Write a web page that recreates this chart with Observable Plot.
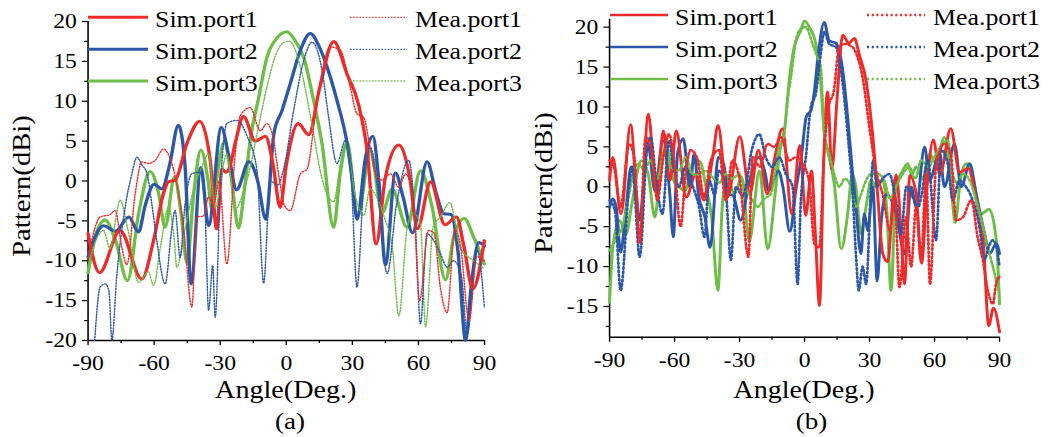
<!DOCTYPE html>
<html><head><meta charset="utf-8">
<script src="https://cdn.jsdelivr.net/npm/d3@7"></script>
<script src="https://cdn.jsdelivr.net/npm/@observablehq/plot@0.6"></script>
<style>
html,body{margin:0;padding:0;background:#fff;overflow:hidden;width:1050px;height:437px}
#stage{position:absolute;left:0;top:0;height:437px;transform-origin:0 0;font-family:"Liberation Serif","Times New Roman",serif}
#stage svg{position:absolute;top:0;overflow:visible}
</style></head><body><div id="stage"></div>
<script>
// ---------- data: panel (a) ----------
const simA1 = [[-90,-6.6],[-84.8,-11.5],[-75.5,-6.2],[-65.6,-12.3],[-60.3,-7.5],[-55.8,-1.6],[-53.5,-0.1],[-50.5,0.1],[-45,4.8],[-39.3,7.5],[-34.5,2.5],[-31.6,-6.0],[-29.2,1.5],[-27.5,1.1],[-26,1.5],[-23,5],[-19.4,8.1],[-14.1,5],[-9.5,5.6],[-6,2],[-2.8,-3.3],[0,2],[5.4,7.2],[10.2,5.8],[15,11.5],[21.5,17.5],[27.6,13.4],[32.9,9.5],[36.7,3.8],[40.8,-7.9],[45,0.5],[51.1,4.5],[56,0.5],[59.5,-6.0],[65.5,-0.1],[72,-5.5],[77.3,-4.5],[80.5,-8],[84.7,-13.5],[89.9,-7.5]];
const simA2 = [[-90,-9.5],[-83,-5.6],[-77.5,-6.3],[-71.5,-4.5],[-67.1,-6.4],[-64,-3],[-60,-0.4],[-56.5,-1.0],[-53,2],[-49,7.0],[-46,2],[-43.2,-12.9],[-38.8,1.7],[-35.3,-5.6],[-29.5,6.7],[-26,3],[-22.6,-1.1],[-17,2.4],[-13,0],[-9.3,-4.8],[-5.6,6],[-2,8.8],[1.8,12.2],[6.4,16.4],[10.9,18.5],[15,16.8],[18.5,14.3],[23,10.1],[27.6,4.7],[30,0],[32.1,-4.8],[36,3],[39.3,5.6],[42,0],[45,-10.5],[49.5,1.0],[53,-2],[57.3,-6.5],[63.9,2.4],[68,-1.5],[71.5,-4.1],[74.8,-4.2],[78,-9],[81.4,-20],[84,-13],[87.4,-7.7],[89.9,-8.1]];
const simA3 = [[-90,-11.5],[-86.5,-6.8],[-82.3,-4.9],[-77.5,-7.5],[-72.1,-12.5],[-67,-4],[-61.8,1.2],[-58,-1.5],[-55,-5.8],[-50.8,0.5],[-47.8,-4],[-45.1,-10.3],[-42,-1.5],[-38.8,3.9],[-35.5,0],[-33.8,-3.5],[-31,1.5],[-28.2,4.9],[-25,0.5],[-21.7,-5.9],[-19,-1],[-16.4,5.1],[-12.5,10.5],[-8.8,15.5],[-4,18],[0.2,18.7],[4,17.6],[7.9,15.5],[12.4,10.1],[16.2,4.7],[21.5,-5.8],[24.5,1],[27.6,4.9],[32.4,-4.4],[38.2,3.8],[43.5,-4],[48,-1],[54.8,-5.8],[60.9,1.3],[66,-3],[72.3,-12.4],[76,-7],[80.8,-4.7],[85,-7],[89.9,-10.4]];
const meaA1 = [[-90,-9.8],[-87,-6],[-84.5,-4.5],[-80,-4.2],[-77.7,-3.7],[-74.7,-8.3],[-72.4,-10.5],[-68.6,-1.6],[-65.6,2.4],[-62.6,2.2],[-59.5,2.6],[-55.8,4.0],[-53,3],[-49.7,-0.4],[-46.7,-5.8],[-42.9,-15.8],[-40.6,-4.5],[-37.6,-4.4],[-35.3,-2],[-33,-3],[-30.5,0],[-27,-10.4],[-23.2,3.4],[-20.9,8.2],[-16.4,9.2],[-11.8,6.3],[-8.8,7.2],[-6.5,6],[-3,0],[-1,-3],[1.8,-3.7],[6.4,0.9],[9.4,1.5],[14,10.1],[20,16.8],[24.5,16.4],[29,11.8],[32.1,8.4],[35.1,8],[37.4,5.2],[40.5,0.9],[43.5,0.1],[47.3,0.9],[51.1,-0.8],[54.1,0.9],[57.5,-2],[60.5,-15],[64.5,-6.2],[67,-6.5],[70,-13.5],[73,-16.5],[76.5,-6],[79,-8],[83,-17.5],[86.5,-9.5],[89.9,-10]];
const meaA2 = [[-87,-20],[-84.5,-13.3],[-82.3,-12.9],[-80.5,-13.8],[-79.2,-20],[-77,-12],[-73,-3],[-70,1],[-67.9,3.0],[-65.5,2],[-63.3,1.0],[-61,-3],[-58.8,-7.5],[-55,-12.9],[-52,-6],[-50.5,-3.7],[-48.2,-9.6],[-46,-3],[-42.9,0.9],[-39.1,1.1],[-37,-3],[-35.3,-16.2],[-33.4,-10.6],[-32.3,-17.1],[-30,-1.2],[-27,7.2],[-22.4,7.6],[-17.9,5.7],[-13.3,1.3],[-10.3,-12.8],[-7.3,0],[-4,-0.5],[-1.2,1.5],[3.3,8.8],[7.9,15.1],[11.7,17.4],[16.2,13.9],[19.2,8],[23,2.2],[26.8,5.1],[29.5,0],[32.1,-13.3],[35,-1],[38.2,4.2],[41,0],[45.8,-11.6],[50,-3],[55.6,2.6],[58.5,-5],[60.9,-17.9],[63.9,-6.6],[67,-7.5],[69.8,-9.0],[73,-10.8],[76,-10],[79.5,-12],[82.1,-19.2],[86.7,-8.7],[89.9,-15.8]];
const meaA3 = [[-90,-10.8],[-86.5,-7.5],[-83,-6.2],[-80,-8.5],[-77,-4],[-75.5,-2.4],[-72,-6],[-67.1,-12.7],[-62.6,-11.4],[-60.3,-13.1],[-57,-8],[-53.5,-3.3],[-51,-7],[-49.7,-10.8],[-46,-6],[-42,-1],[-38,2],[-35.3,3.4],[-32.3,-3.3],[-27,3.4],[-23.2,-3.5],[-19,-1],[-16.4,1.7],[-12.5,7],[-8.8,11.8],[-4.5,16],[-1,17.4],[1.5,17.5],[6.4,14.3],[11.7,7],[16.2,0.3],[21.5,-2.6],[24.5,2],[27,4.7],[31.4,-2],[35.2,-4.3],[38,-1],[41,-2],[45,-5],[48,-8],[51.1,-16.9],[54.8,-6],[57.5,-4],[60.9,-5.4],[63.2,-18.3],[66.7,-5.7],[70,-4.5],[74.2,-2.7],[79,-8.4],[85,-10],[89.9,-11]];

// ---------- data: panel (b) ----------
const simB1 = [[-90,0.8],[-88.5,3.7],[-84.7,-3.4],[-80.3,7.8],[-76.1,-5.9],[-72.1,9.1],[-68.4,-0.9],[-65.2,7.0],[-62.1,0.8],[-59.2,7.0],[-54.6,-1.3],[-50.2,1.6],[-46.4,-1.7],[-42.5,3.5],[-39.9,7.7],[-35.6,-1.3],[-29.9,6.3],[-25.2,-0.8],[-21.3,4.6],[-17.2,-0.9],[-13.5,4],[-10.2,7.3],[-5.9,-3.4],[-2.2,5.2],[0.5,-3.6],[3.2,2.0],[5,-6],[6.9,-14.9],[8.8,3],[10.6,11.9],[12.6,2.2],[15,11],[17.6,19.0],[20.5,18.0],[23,18.6],[25.3,16.5],[28.4,13.3],[31.4,6.6],[33.7,-0.9],[36.1,-8.4],[38.4,-9.4],[40.7,-1.7],[42.3,1.5],[44.5,-5.5],[46.1,-12.2],[48.6,1.4],[51.5,-0.9],[54,-9.6],[56.5,0],[59.4,5.9],[62.5,1.5],[67.5,7.3],[71.5,1.8],[75.4,2.3],[79.5,-2],[82.5,-7],[85,-17.4],[87.2,-15.2],[90,-18.2]];
const simB2 = [[-90,-2.6],[-88.5,-1.5],[-86.9,-2.6],[-84.9,-8.2],[-82.5,-3],[-80,2.5],[-77.6,-0.9],[-76.4,-4.2],[-72.2,5.2],[-69.1,-0.5],[-65.3,5.8],[-62.2,-0.9],[-60.6,-6.3],[-58.6,4.2],[-56,6.0],[-52.9,-0.1],[-50.9,4.2],[-49,-0.9],[-46,-3.8],[-43.6,-7.6],[-39.8,3.7],[-37.4,2.9],[-35.1,-0.9],[-33,-1.1],[-29.5,-4.2],[-26,0],[-24.2,2.0],[-21.2,3.7],[-18.1,1.6],[-16.6,-0.5],[-12.1,2.0],[-10,0],[-6.8,-5.6],[-3.8,0],[-1.5,3.7],[0.8,8.8],[3.0,9.6],[4.6,12.1],[6,15.8],[9.1,20.6],[11.4,18.3],[14.5,18.0],[17.6,14.6],[19.9,8.7],[22.2,1.6],[23.7,-2.5],[26,-8.4],[27.6,-3.4],[29.2,-5.5],[31.5,0],[33.5,-11.8],[35.5,-4],[37.7,-0.9],[42.3,-3.4],[46.2,-8.4],[49.2,0],[51.5,-2.5],[55.4,5.0],[57.7,0.8],[62.3,4.2],[64.6,0],[69.2,5.4],[72.3,0],[76.2,2.9],[79.2,-0.9],[83.1,-5.9],[85.4,-8.4],[88.5,-7.1],[90,-8.4]];
const simB3 = [[-90,-14.5],[-88.5,-7.6],[-85.4,-4.2],[-82.3,-5.9],[-80,-2.6],[-75.3,3.3],[-72.2,1.6],[-69.1,-3.8],[-66.8,1.6],[-63.7,5.0],[-60.6,0.8],[-58,0],[-55.2,-0.5],[-51.4,3],[-48.5,3.2],[-45.5,0],[-42.9,-3.8],[-40,-13],[-37.8,-1.7],[-35.5,1.2],[-32.5,-0.9],[-29,1.2],[-25.5,-6.8],[-20.8,2],[-17,-7.8],[-13.6,-0.9],[-11.3,4.6],[-9.1,7.5],[-6.8,14],[-4.8,17.5],[-1.7,19.6],[-0.1,20.8],[2.2,20],[5.2,17.9],[7.5,12.9],[9.1,6.6],[10.6,4.6],[13.7,0.4],[16.9,-7.8],[19.9,-3.4],[22,1.6],[23.7,0],[26,-5.9],[28.4,-2.5],[30.7,0.8],[33,0],[36.1,0.8],[38,-3],[39.9,-13],[42.2,0],[45.3,2],[47.6,2.9],[49.5,1.5],[51.5,2.5],[54.5,1],[57.7,4.1],[60.5,3],[64.6,6.2],[67.5,0.5],[69.5,-4.5],[72,1],[74.6,2.9],[77.7,1.2],[81.5,-3.4],[85.2,-2.8],[88.5,-6.7],[90,-14.7]];
const meaB1 = [[-90,3.3],[-88,2.5],[-84.9,-2.5],[-81,5.4],[-78.5,3.5],[-76.1,-7.1],[-73.4,6.2],[-70.5,4.5],[-68,-1.7],[-65,4],[-62.6,6.6],[-60.5,4],[-57.2,-5],[-54.9,1.6],[-52.6,4.6],[-49.5,3.5],[-46.4,-1.3],[-43.3,3.3],[-39.5,4.6],[-36.4,-1.7],[-33.3,3.3],[-30,1],[-25.9,-8.8],[-24,3.7],[-20.5,2.5],[-17.1,5.4],[-14,5],[-10.9,6.2],[-7.1,3.3],[-4,3.7],[-1,3],[2.2,0.4],[4.5,-7.1],[6.8,-7.6],[9.1,4.6],[11.1,10],[13.5,12],[16,17.5],[18.3,17.9],[22.2,17.5],[24.5,16.2],[26.8,13.7],[29.9,7.5],[33,2],[36.1,-1],[39.5,-5.5],[41.5,-1],[43.8,-12.6],[46.8,-3.8],[49.2,-10],[51.5,-2.5],[53.8,-9.2],[56.1,1.6],[57.9,-12.2],[60.7,2.5],[64.6,5.4],[67.5,4],[70,-4.2],[73.1,-3.8],[76.9,-1.7],[80,-6.5],[82.3,-9.2],[84.6,-13],[86.9,-14.7],[88.5,-12],[90,-11.3]];
const meaB2 = [[-90,-1.7],[-87.5,-3],[-84.9,-13],[-81,0],[-79.5,2.5],[-76.1,-8.8],[-72.6,5],[-71,6.2],[-68.5,0.8],[-65.6,-3.4],[-62.6,5.8],[-60.5,2.5],[-58,0],[-55,2.5],[-51.5,0],[-48.7,-2.5],[-46.2,-6.3],[-44,0.8],[-41.5,-1],[-39.5,2],[-36.5,0],[-34,-9.2],[-31.7,0],[-28.5,-1.2],[-24,5],[-20.9,6.6],[-17.9,3.7],[-15,2.5],[-11.7,3.7],[-8.5,1.5],[-5.5,0],[-3.2,-12.2],[-1.7,-1.7],[0.6,3.7],[2.9,10],[5.2,11.7],[7.5,16.7],[9.1,19.4],[11.4,17.9],[14.5,17.5],[17.6,12.9],[19.9,6.6],[22.2,-0.9],[23.7,-8.4],[25,-13],[26.8,-10],[28.4,-12.2],[30.7,0],[31.6,3.3],[33.5,0],[36,1],[39.1,1.6],[42,-1.5],[44.5,-5.9],[47,0],[49.9,-1.3],[52.5,-2.5],[54,-1],[56.9,3.3],[60.7,-6.7],[63,4.6],[66.1,2.9],[68.4,-1.7],[71.5,0.8],[74.5,0],[77.6,-1.7],[80.7,-5],[83,-9.2],[85,-7.5],[86.9,-6.7],[88.5,-7.5],[90,-10]];
const meaB3 = [[-90,-8],[-87,-6.5],[-84.1,-5],[-81,-0.9],[-77.2,2.9],[-74,2.2],[-71,3.3],[-68,1],[-64.1,5],[-61.8,2.5],[-58,2],[-54.9,3.7],[-51.5,1.5],[-48.7,1.6],[-45.5,2],[-42.5,1.2],[-39.5,0.5],[-36.4,1.6],[-33.3,1],[-30.2,1.6],[-27.5,0],[-24,-1.7],[-21.7,-2.5],[-18.5,-1.5],[-15.6,-0.9],[-11.7,5.0],[-9.4,6.6],[-7.9,10.8],[-6.3,13.7],[-4,18.3],[-1.7,19.8],[0.6,20],[3.7,17.9],[6,16.2],[7.5,15],[9.1,6.6],[11.4,4.1],[13.7,1.6],[16,0],[18.5,1],[21.4,0],[23.7,-2.5],[26,-1],[28.4,0.8],[30.7,1.6],[33.9,1.6],[36.8,0.8],[39.5,-1.5],[42.2,0],[45.3,1.6],[48.4,2.5],[51,1],[53.8,3.3],[57,2.5],[60.7,4.1],[63.8,5.4],[66.1,5.8],[68.4,1.6],[70.5,0.5],[73.1,1.6],[76.2,0.8],[79.2,-1.7],[82.3,-5],[84.6,-7.6],[86.9,-10],[90,-13.4]];

// ---------- labels / ticks ----------
const seriesNames = ["Sim.port1","Sim.port2","Sim.port3","Mea.port1","Mea.port2","Mea.port3"];
const colors = ["#ee2a2a","#2b57a6","#6dbd46"];
const xMajor = [-90,-60,-30,0,30,60,90];
const xMinor = [-75,-45,-15,15,45,75];
const yMajorA = [-20,-15,-10,-5,0,5,10,15,20];
const yMinorA = [-17.5,-12.5,-7.5,-2.5,2.5,7.5,12.5,17.5];
const yMajorB = [-15,-10,-5,0,5,10,15,20];
const yMinorB = [-17.5,-12.5,-7.5,-2.5,2.5,7.5,12.5,17.5];
const xTitle = "Angle(Deg.)", yTitle = "Pattern(dBi)";
const captions = ["(a)","(b)"];

// ---------- layout ----------
const S = 1.125;               // horizontal stretch of the original figure
const W = 1050 / S;
const stage = document.getElementById("stage");
stage.style.width = W + "px";
stage.style.transform = `scaleX(${S})`;
const FONT = '"Liberation Serif","Times New Roman",serif';

function panel(cfg) {
  const ml = cfg.plotLeft / S - cfg.svgLeft;
  const mr = cfg.svgLeft + cfg.width - cfg.plotRight / S;
  const sim = cfg.sim, mea = cfg.mea;
  const marks = [
    Plot.axisY(cfg.yMajor, {tickSize: 5, tickPadding: 5, tickFormat: d => String(d), label: null, stroke: "#000", strokeWidth: 1.2}),
    Plot.axisY(cfg.yMinor, {tickSize: 3, tickFormat: () => "", label: null, stroke: "#000", strokeWidth: 1.2}),
    Plot.axisX(xMajor, {tickSize: 5, tickPadding: 9.5, tickFormat: d => String(d), label: null, stroke: "#000", strokeWidth: 1.2}),
    Plot.axisX(xMinor, {tickSize: 3, tickFormat: () => "", label: null, stroke: "#000", strokeWidth: 1.2}),
    Plot.ruleX([-90], {stroke: "#000", strokeWidth: 1.4}),
    Plot.ruleY([cfg.yDomain[0]], {stroke: "#000", strokeWidth: 1.4})
  ];
  [2,1,0].forEach(i => marks.push(Plot.line(sim[i], {x: d => d[0], y: d => d[1], stroke: colors[i], strokeWidth: cfg.simW, curve: "monotone-x"})));
  [2,1,0].forEach(i => marks.push(Plot.line(mea[i], {x: d => d[0], y: d => d[1], stroke: colors[i], strokeWidth: cfg.meaW, strokeDasharray: cfg.dash, curve: "monotone-x"})));
  const svg = Plot.plot({
    width: cfg.width, height: 437,
    marginLeft: ml, marginRight: mr, marginTop: cfg.top, marginBottom: 437 - cfg.bottom,
    x: {domain: [-90, 90]},
    y: {domain: cfg.yDomain},
    style: {fontFamily: FONT, fontSize: "21px", color: "#000", background: "transparent", overflow: "visible"},
    marks
  });
  svg.style.left = cfg.svgLeft + "px";
  stage.appendChild(svg);
}

panel({svgLeft: 0, width: 465, plotLeft: 87.5, plotRight: 484, top: 21, bottom: 340,
  yDomain: [-20, 20], yMajor: yMajorA, yMinor: yMinorA,
  sim: [simA1, simA2, simA3], mea: [meaA1, meaA2, meaA3], simW: 3, meaW: 1.3, dash: "1.3,1.5"});
panel({svgLeft: 470, width: W - 470, plotLeft: 609, plotRight: 999, top: 18.7, bottom: 336.7,
  yDomain: [-18.85, 21], yMajor: yMajorB, yMinor: yMinorB,
  sim: [simB1, simB2, simB3], mea: [meaB1, meaB2, meaB3], simW: 2.6, meaW: 2.4, dash: "1.8,2.4"});

// ---------- overlay: legends, titles, captions ----------
const NS = "http://www.w3.org/2000/svg";
const ov = document.createElementNS(NS, "svg");
ov.setAttribute("width", W); ov.setAttribute("height", 437);
ov.style.left = "0px"; ov.style.pointerEvents = "none";
stage.appendChild(ov);
function el(tag, attrs, text) {
  const e = document.createElementNS(NS, tag);
  for (const k in attrs) e.setAttribute(k, attrs[k]);
  if (text != null) e.textContent = text;
  ov.appendChild(e); return e;
}
// legend: [sampleX0, sampleX1, textX] in final px, rows in final px
const legends = [
  {cols: [[88,148,155],[350,407,415]], rows: [17.3,49.3,81], simW: 3, meaW: 1.3, dash: "1.3,1.5"},
  {cols: [[610,668,675],[867,925,933]], rows: [15,47,79], simW: 2.6, meaW: 2.4, dash: "1.8,2.4"}
];
legends.forEach(L => {
  L.cols.forEach((c, ci) => {
    L.rows.forEach((ry, ri) => {
      const attrs = {x1: c[0]/S, x2: c[1]/S, y1: ry, y2: ry, stroke: colors[ri], "stroke-width": ci ? L.meaW : L.simW};
      if (ci) attrs["stroke-dasharray"] = L.dash;
      el("line", attrs);
      el("text", {x: c[2]/S, y: ry + 9.8, "font-family": FONT, "font-size": 23, fill: "#000"}, seriesNames[ci*3 + ri]);
    });
  });
});
[[285.75, 21.7, 186, 290], [804, 543.3, 183, 811.5]].forEach(([xc, yx, yy, cx], i) => {
  el("text", {x: xc/S, y: 398.5, "text-anchor": "middle", "font-family": FONT, "font-size": 25, fill: "#000"}, xTitle);
  el("text", {x: 0, y: 0, transform: `translate(${(yx + 8.4)/S},${yy}) scale(${1/S},1) rotate(-90) scale(${S},1)`, "text-anchor": "middle", "font-family": FONT, "font-size": 25.5, fill: "#000"}, yTitle);
  el("text", {x: cx/S, y: 429, "text-anchor": "middle", "font-family": FONT, "font-size": 24, fill: "#000"}, captions[i]);
});
</script></body></html>
